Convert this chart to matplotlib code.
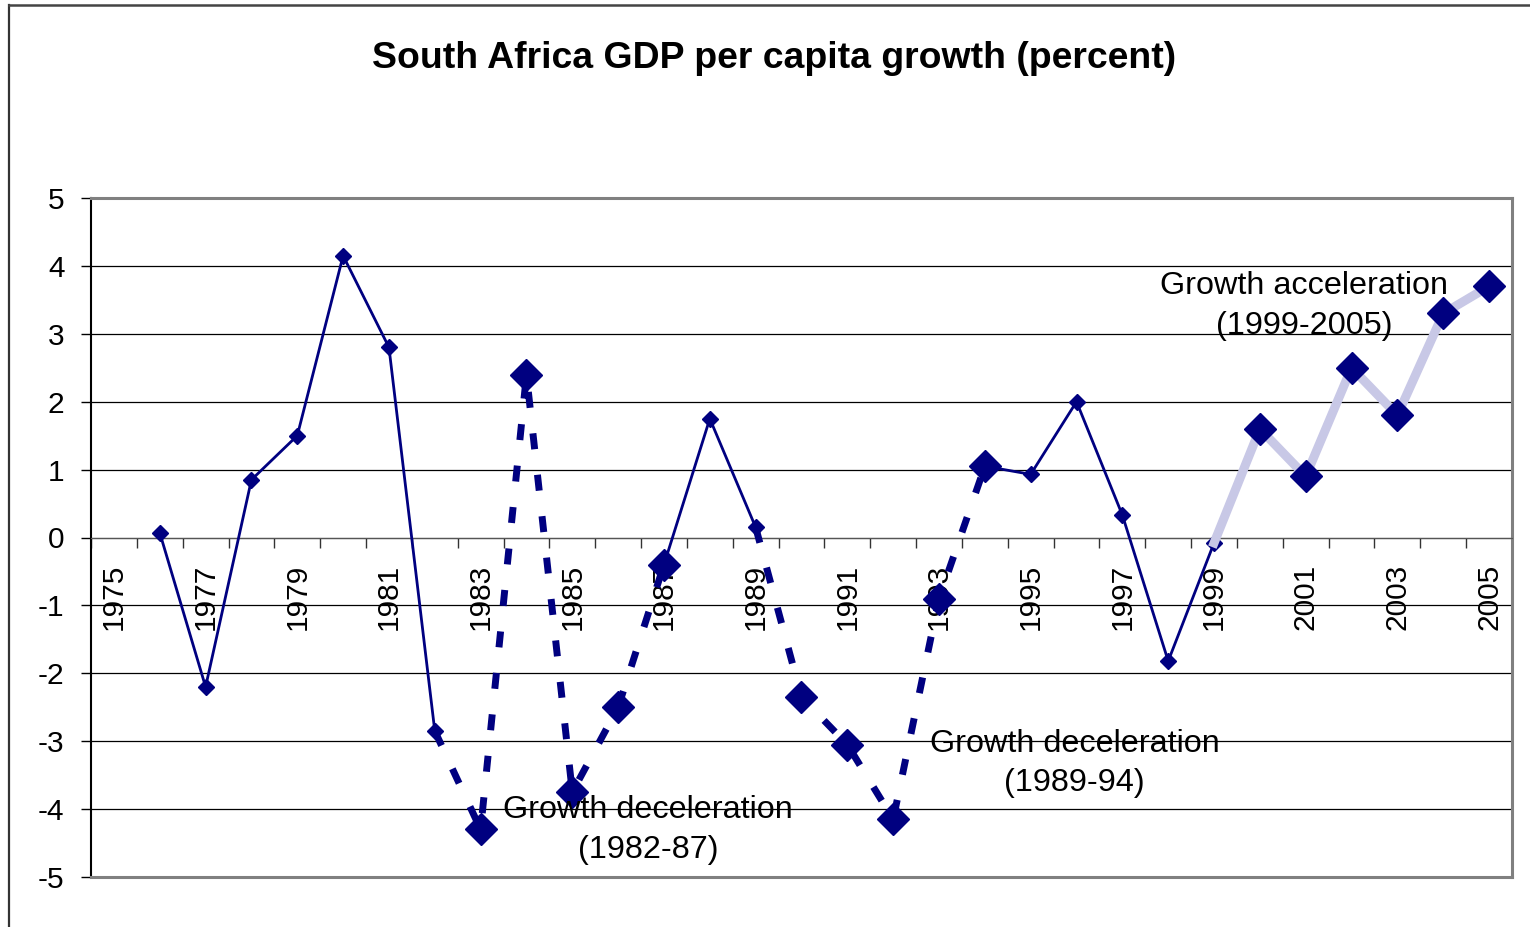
import numpy as np
import matplotlib
matplotlib.use("Agg")
import matplotlib.pyplot as plt
from matplotlib.lines import Line2D

plt.rcParams['font.family'] = ['Liberation Sans', 'DejaVu Sans']
plt.rcParams['axes.unicode_minus'] = False

# data
years = list(range(1975, 2006))
growth = [np.nan, 0.07, -2.2, 0.85, 1.5, 4.15, 2.8, -2.85, -4.3, 2.4,
          -3.75, -2.5, -0.4, 1.75, 0.15, -2.35, -3.05, -4.15, -0.9, 1.05,
          0.93, 2.0, 0.33, -1.82, -0.08, 1.6, 0.9, 2.5, 1.8, 3.3, 3.7]
decel_periods = [(1982, 1987), (1989, 1994)]
accel_period = (1999, 2005)
notes = ["Growth deceleration\n(1982-87)", "Growth deceleration\n(1989-94)",
         "Growth acceleration\n(1999-2005)"]
note_pos = [(1986.65, -4.31), (1995.96, -3.33), (2000.96, 3.41)]

navy = '#000080'
x = np.arange(len(years))
g = np.array(growth)

def span(a, b):
    m = np.full(len(years), np.nan)
    i, j = years.index(a), years.index(b)
    m[i:j + 1] = g[i:j + 1]
    return m

# normal years: everything outside the marked periods (end points kept)
normal = g.copy()
for a, b in decel_periods:
    normal[years.index(a) + 1:years.index(b)] = np.nan
normal[years.index(accel_period[0]) + 1:] = np.nan

fig = plt.figure(figsize=(15.3, 9.27), dpi=100)
ax = fig.add_axes([91 / 1530, 50 / 927, 1421 / 1530, 679 / 927])

ax.plot(x, normal, color=navy, lw=2.0, marker='D', ms=8.6, zorder=3)

for a, b in decel_periods:
    s = span(a, b)
    idx = list(range(years.index(a) + 1, years.index(b) + 1))
    ax.plot(x, s, color=navy, lw=5, dashes=(2.3, 3.7), zorder=4)
    ax.plot(x[idx], s[idx], ls='none', color=navy, marker='D', ms=16, zorder=5)

a, b = accel_period
s = span(a, b)
idx = list(range(years.index(a) + 1, years.index(b) + 1))
ax.plot(x, s, color='#C8C8E6', lw=6.5, zorder=4)
ax.plot(x[idx], s[idx], ls='none', color=navy, marker='D', ms=16, zorder=5)

for txt, (yr, val) in zip(notes, note_pos):
    ax.text(yr - years[0], val, txt, ha='center', va='center', fontsize=23.3,
            linespacing=1.42, zorder=6)

ax.set_xlim(-0.5, len(years) - 0.5)
ax.set_ylim(-5, 5)
ax.set_yticks(range(-5, 6))
ax.yaxis.grid(True, color='black', lw=0.9)
ax.tick_params(axis='y', labelsize=21.5, length=7, width=1, direction='out', pad=12)

# category axis crossing at zero
ax.spines['bottom'].set_position(('data', 0))
ax.spines['bottom'].set_color('#555555')
ax.set_xticks(np.arange(len(years) + 1) - 0.5)
ax.set_xticklabels([])
ax.tick_params(axis='x', which='major', length=7, width=1, direction='out', color='#333333')
ax.set_xticks(x[::2], minor=True)
ax.set_xticklabels([str(y) for y in years[::2]], minor=True, rotation=90, fontsize=21.5)
ax.tick_params(axis='x', which='minor', length=0, pad=19)
for t in ax.get_xticklabels(minor=True):
    t.set_va('top')

ax.spines['left'].set_color('black')
ax.spines['left'].set_linewidth(1.5)
for side in ['top', 'right']:
    ax.spines[side].set_color('#808080')
    ax.spines[side].set_linewidth(2.2)
ax.axhline(-5, color='#808080', lw=2.2, zorder=2.6, clip_on=False)

fig.text(774 / 1530, 1 - 58 / 927, "South Africa GDP per capita growth (percent)",
         ha='center', va='center', fontsize=26.9, fontweight='bold')

# outer chart border (left and top only visible)
fig.add_artist(Line2D([9 / 1530, 9 / 1530], [0, 1 - 4.5 / 927], color='#333333', lw=1.6))
fig.add_artist(Line2D([9 / 1530, 1], [1 - 4.5 / 927, 1 - 4.5 / 927], color='#444444', lw=1.8))

fig.savefig('out.png', dpi=100)
